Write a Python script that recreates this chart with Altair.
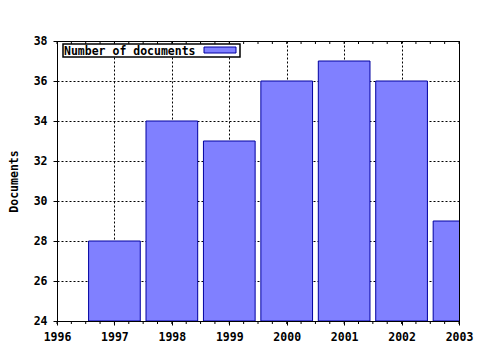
import altair as alt
import pandas as pd

# ---- data ----
years = [1997, 1998, 1999, 2000, 2001, 2002, 2003]
docs = [28, 34, 33, 36, 37, 36, 29]
x_ticks = [1996, 1997, 1998, 1999, 2000, 2001, 2002, 2003]
y_ticks = [24, 26, 28, 30, 32, 34, 36, 38]
series_name = "Number of documents"
y_title = "Documents"

FONT = "DejaVu Sans Mono"
FILL = "#8080ff"
EDGE = "#0000a0"
HALF = 0.45  # half bar width in years

df = pd.DataFrame({"year": years, "docs": docs})
df["x0"] = df["year"] - HALF
df["x1"] = df["year"] + HALF
df["base"] = y_ticks[0]

# minor tick positions (quarters of a year)
minor = pd.DataFrame({"x0": [x_ticks[0] + i * 0.25 for i in range((x_ticks[-1] - x_ticks[0]) * 4 + 1)]})

xscale = alt.Scale(domain=[x_ticks[0], x_ticks[-1]], nice=False, zero=False)
yscale = alt.Scale(domain=[y_ticks[0], y_ticks[-1]], nice=False, zero=False)

xaxis = alt.Axis(
    values=x_ticks, format="d", title=None, grid=True, gridDash=[2, 2],
    gridColor="black", gridOpacity=1, tickSize=4, tickColor="black",
    domainColor="black", labelFont=FONT, labelFontWeight="bold",
    labelFontSize=11.5, labelColor="black", labelPadding=6, labelFlush=False)

bars = alt.Chart(df).mark_rect(clip=True, fill=FILL, stroke=EDGE, strokeWidth=1).encode(
    x=alt.X("x0:Q", scale=xscale, axis=xaxis, title=None),
    x2="x1:Q",
    y=alt.Y("docs:Q", scale=yscale, axis=alt.Axis(
        values=y_ticks, format="d", title=y_title, grid=True, gridDash=[2, 2],
        gridColor="black", gridOpacity=1, tickSize=4, tickColor="black",
        domainColor="black", labelFont=FONT, labelFontWeight="bold",
        labelFontSize=11.5, labelColor="black", labelPadding=6,
        titleFont=FONT, titleFontWeight="bold", titleFontSize=11.5,
        titleColor="black", titlePadding=14)),
    y2="base:Q",
)

minor_bottom = alt.Chart(minor).mark_rule(color="black", strokeWidth=1).encode(
    x=alt.X("x0:Q", scale=xscale, axis=xaxis, title=None),
    y=alt.value(280), y2=alt.value(283),
)
minor_top = alt.Chart(minor).mark_rule(color="black", strokeWidth=1).encode(
    x=alt.X("x0:Q", scale=xscale, axis=xaxis, title=None),
    y=alt.value(0), y2=alt.value(3),
)

leg = pd.DataFrame({"t": [series_name]})
legend_box = alt.Chart(leg).mark_rect(fill="white", stroke="black", strokeWidth=1.5).encode(
    x=alt.value(6), x2=alt.value(183), y=alt.value(3), y2=alt.value(16)
)
legend_swatch = alt.Chart(leg).mark_rect(fill=FILL, stroke=EDGE, strokeWidth=1).encode(
    x=alt.value(147), x2=alt.value(179), y=alt.value(6), y2=alt.value(12)
)
legend_text = alt.Chart(leg).mark_text(
    font=FONT, fontWeight="bold", fontSize=11.5, color="black", align="left", baseline="alphabetic"
).encode(text="t:N", x=alt.value(7), y=alt.value(13.5))

chart = alt.layer(
    bars, minor_bottom, minor_top, legend_box, legend_swatch, legend_text
).properties(
    width=402, height=280,
    autosize=alt.AutoSizeParams(type="none"),
    padding={"left": 57, "top": 41, "right": 21, "bottom": 29},
    background="white",
).configure_view(stroke="black", strokeWidth=1)

chart.save("out.html", embed_options={"renderer": "svg", "actions": False})
